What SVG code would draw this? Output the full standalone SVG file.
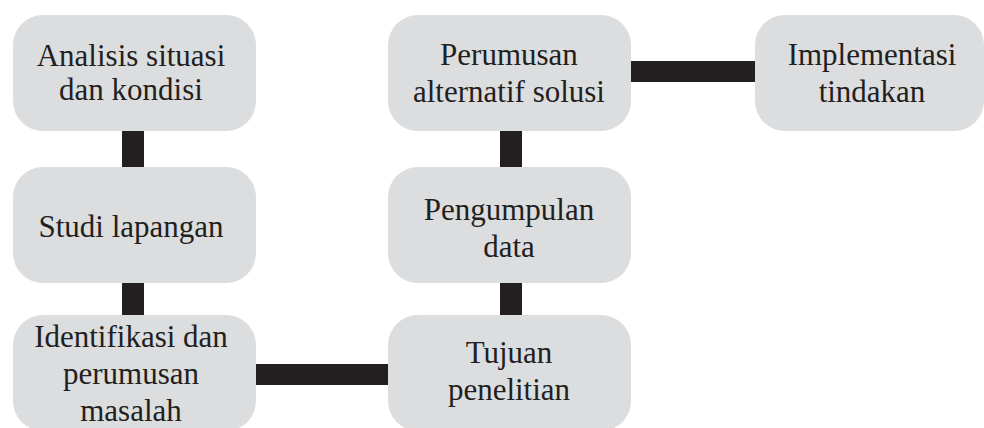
<svg xmlns="http://www.w3.org/2000/svg" width="984" height="428" viewBox="0 0 984 428">
<style>
.box{fill:#dcdddf}
.t{font-family:"Liberation Serif","Times New Roman",serif;font-size:31px;fill:#231f20;text-anchor:middle}
.c{fill:#231f20}
</style>
<rect width="984" height="428" fill="#ffffff"/>
<g id="connectors">
<rect class="c" x="122" y="130" width="22" height="38"/>
<rect class="c" x="122" y="282" width="22" height="34"/>
<rect class="c" x="255" y="364" width="134" height="21"/>
<rect class="c" x="500" y="282" width="22" height="34"/>
<rect class="c" x="500" y="130" width="22" height="38"/>
<rect class="c" x="630" y="61" width="126" height="21"/>
</g>
<g id="analisis">
<rect class="box" x="13" y="15" width="243" height="116" rx="30"/>
<text class="t" x="131" y="66">Analisis situasi</text>
<text class="t" x="131" y="100">dan kondisi</text>
</g>
<g id="studi">
<rect class="box" x="13" y="167" width="243" height="116" rx="30"/>
<text class="t" x="131" y="237">Studi lapangan</text>
</g>
<g id="identifikasi">
<rect class="box" x="13" y="315" width="243" height="116" rx="30"/>
<text class="t" x="131" y="347">Identifikasi dan</text>
<text class="t" x="131" y="384">perumusan</text>
<text class="t" x="131" y="421">masalah</text>
</g>
<g id="tujuan">
<rect class="box" x="388" y="315" width="243" height="116" rx="30"/>
<text class="t" x="509" y="363">Tujuan</text>
<text class="t" x="509" y="400">penelitian</text>
</g>
<g id="pengumpulan">
<rect class="box" x="388" y="167" width="243" height="116" rx="30"/>
<text class="t" x="509" y="220">Pengumpulan</text>
<text class="t" x="509" y="257">data</text>
</g>
<g id="perumusan">
<rect class="box" x="388" y="15" width="243" height="116" rx="30"/>
<text class="t" x="509" y="65">Perumusan</text>
<text class="t" x="509" y="102">alternatif solusi</text>
</g>
<g id="implementasi">
<rect class="box" x="755" y="15" width="229" height="116" rx="30"/>
<text class="t" x="872" y="65">Implementasi</text>
<text class="t" x="872" y="102">tindakan</text>
</g>
</svg>
